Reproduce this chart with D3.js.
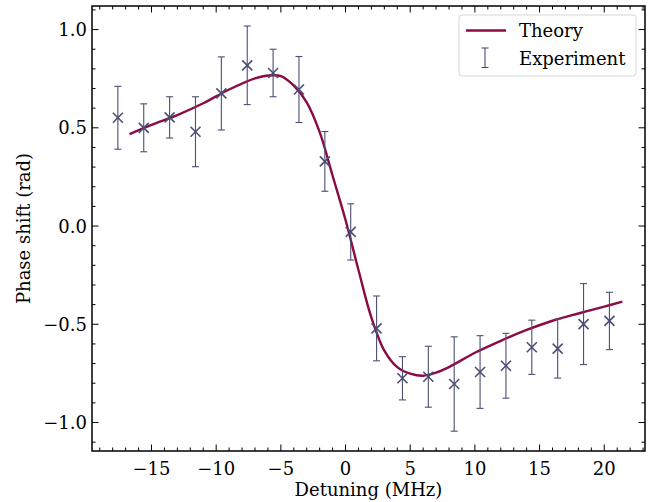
<!DOCTYPE html>
<html lang="en">
<head>
	<meta charset="utf-8">
	<title>Phase shift vs detuning</title>
	<script src="https://cdn.jsdelivr.net/npm/d3@7"></script>
	<style>
		body { margin: 0; background: #fff; }
		text { font-family: "DejaVu Serif", serif; fill: #000; }
	</style>
</head>
<body>
	<div id="chart"></div>
	<script>

		// measured detuning (MHz), phase shift (rad) and error bar half-widths
		const expX = [-17.6, -15.6, -13.6, -11.6, -9.6, -7.6, -5.6, -3.6, -1.6, 0.4,
			2.4, 4.4, 6.4, 8.4, 10.4, 12.4, 14.4, 16.4, 18.4, 20.4];
		const expY = [0.551, 0.500, 0.553, 0.480, 0.675, 0.818, 0.779, 0.695, 0.329, -0.030,
			-0.521, -0.775, -0.767, -0.804, -0.743, -0.711, -0.617, -0.624, -0.499, -0.483];
		const expErr = [0.160, 0.122, 0.105, 0.178, 0.186, 0.200, 0.121, 0.168, 0.152, 0.143,
			0.165, 0.110, 0.155, 0.240, 0.185, 0.165, 0.138, 0.150, 0.206, 0.146];

		// theory curve
		const theoryX = [-16.7, -15, -13, -11, -9, -7, -6, -5, -4, -3, -2, -1, 0,
			1, 2, 3, 4, 5, 6, 7, 8, 10, 12, 14, 16, 18, 20, 21.4];
		const theoryY = [0.468, 0.515, 0.565, 0.625, 0.695, 0.752, 0.766, 0.763, 0.715, 0.630, 0.478, 0.256, 0.031,
			-0.224, -0.466, -0.634, -0.718, -0.751, -0.762, -0.746, -0.718, -0.645, -0.584, -0.529, -0.482, -0.445, -0.410, -0.385];

		const xTicks = [-15, -10, -5, 0, 5, 10, 15, 20];
		const yTicks = [-1.0, -0.5, 0.0, 0.5, 1.0];

		const W = 654, H = 502;
		const margin = {top: 6, right: 9, bottom: 51, left: 92};
		const width = W - margin.left - margin.right,
			height = H - margin.top - margin.bottom;

		const theoryColor = "#8b0b45",
			expColor = "#4a4f73";
		const fs = 18;

		const svg = d3.select("#chart").append("svg")
			.attr("width", W)
			.attr("height", H);

		const g = svg.append("g")
			.attr("transform", "translate(" + margin.left + "," + margin.top + ")");

		const x = d3.scaleLinear().domain([-19.6, 23.15]).range([0, width]);
		const y = d3.scaleLinear().domain([-1.145, 1.12]).range([height, 0]);

		const fmt = v => (v < 0 ? "\u2212" : "") + Math.abs(v);
		const fmtY = v => (v < 0 ? "\u2212" : "") + Math.abs(v).toFixed(1);

		// minor tick values
		const xMinor = d3.range(-19, 24, 1).filter(v => v % 5 !== 0);
		const yMinor = d3.range(-11, 12, 1).map(v => v / 10).filter(v => Math.round(v * 10) % 5 !== 0);

		const majorLen = 6.5, minorLen = 3.5;

		// inward ticks on all four sides
		function drawTicks(vals, len) {
			const t = g.append("g").attr("stroke", "#000").attr("stroke-width", 1);
			vals.forEach(v => {
				const px = x(v);
				t.append("line").attr("x1", px).attr("x2", px).attr("y1", height).attr("y2", height - len);
				t.append("line").attr("x1", px).attr("x2", px).attr("y1", 0).attr("y2", len);
			});
		}
		function drawYTicks(vals, len) {
			const t = g.append("g").attr("stroke", "#000").attr("stroke-width", 1);
			vals.forEach(v => {
				const py = y(v);
				t.append("line").attr("x1", 0).attr("x2", len).attr("y1", py).attr("y2", py);
				t.append("line").attr("x1", width).attr("x2", width - len).attr("y1", py).attr("y2", py);
			});
		}
		drawTicks(xMinor, minorLen);
		drawTicks(xTicks, majorLen);
		drawYTicks(yMinor, minorLen);
		drawYTicks(yTicks, majorLen);

		// tick labels
		g.append("g").selectAll("text").data(xTicks).join("text")
			.attr("x", d => x(d))
			.attr("y", height + 24)
			.attr("text-anchor", "middle")
			.attr("font-size", fs)
			.text(fmt);

		g.append("g").selectAll("text").data(yTicks).join("text")
			.attr("x", -5)
			.attr("y", d => y(d))
			.attr("dy", "0.36em")
			.attr("text-anchor", "end")
			.attr("font-size", fs)
			.text(fmtY);

		// theory line
		const line = d3.line()
			.x((d, i) => x(theoryX[i]))
			.y(d => y(d))
			.curve(d3.curveCatmullRom.alpha(0.5));

		g.append("path")
			.datum(theoryY)
			.attr("fill", "none")
			.attr("stroke", theoryColor)
			.attr("stroke-width", 2.4)
			.attr("d", line);

		// error bars
		const cap = 3.5;
		const eb = g.append("g").attr("stroke", expColor).attr("stroke-width", 1.1);
		expX.forEach((xv, i) => {
			const px = x(xv),
				top = y(expY[i] + expErr[i]),
				bot = y(expY[i] - expErr[i]);
			eb.append("line").attr("x1", px).attr("x2", px).attr("y1", top).attr("y2", bot);
			eb.append("line").attr("x1", px - cap).attr("x2", px + cap).attr("y1", top).attr("y2", top);
			eb.append("line").attr("x1", px - cap).attr("x2", px + cap).attr("y1", bot).attr("y2", bot);
		});

		// x markers
		const m = 5;
		const mk = g.append("g").attr("stroke", expColor).attr("stroke-width", 1.6);
		expX.forEach((xv, i) => {
			const px = x(xv), py = y(expY[i]);
			mk.append("line").attr("x1", px - m).attr("x2", px + m).attr("y1", py - m).attr("y2", py + m);
			mk.append("line").attr("x1", px - m).attr("x2", px + m).attr("y1", py + m).attr("y2", py - m);
		});

		// frame
		g.append("rect")
			.attr("width", width)
			.attr("height", height)
			.attr("fill", "none")
			.attr("stroke", "#000")
			.attr("stroke-width", 1.5);

		// legend
		const lg = svg.append("g").attr("transform", "translate(459,15)");
		lg.append("rect")
			.attr("width", 177)
			.attr("height", 61)
			.attr("rx", 3)
			.attr("fill", "#fff")
			.attr("fill-opacity", 0.8)
			.attr("stroke", "#d6d6d6")
			.attr("stroke-width", 1);
		lg.append("line")
			.attr("x1", 7).attr("x2", 47).attr("y1", 15.5).attr("y2", 15.5)
			.attr("stroke", theoryColor).attr("stroke-width", 2.4);
		lg.append("text").attr("x", 60).attr("y", 22).attr("font-size", fs).text("Theory");
		const lgE = lg.append("g").attr("stroke", expColor).attr("stroke-width", 1.1);
		lgE.append("line").attr("x1", 26).attr("x2", 26).attr("y1", 33).attr("y2", 52.5);
		lgE.append("line").attr("x1", 26 - cap).attr("x2", 26 + cap).attr("y1", 33).attr("y2", 33);
		lgE.append("line").attr("x1", 26 - cap).attr("x2", 26 + cap).attr("y1", 52.5).attr("y2", 52.5);
		lg.append("text").attr("x", 60).attr("y", 50).attr("font-size", fs).text("Experiment");

		// axis labels
		svg.append("text")
			.attr("x", margin.left + width / 2)
			.attr("y", 496)
			.attr("text-anchor", "middle")
			.attr("font-size", fs)
			.text("Detuning (MHz)");

		svg.append("text")
			.attr("transform", "translate(30," + (margin.top + height / 2) + ") rotate(-90)")
			.attr("text-anchor", "middle")
			.attr("font-size", fs)
			.text("Phase shift (rad)");

	</script>
</body>
</html>
